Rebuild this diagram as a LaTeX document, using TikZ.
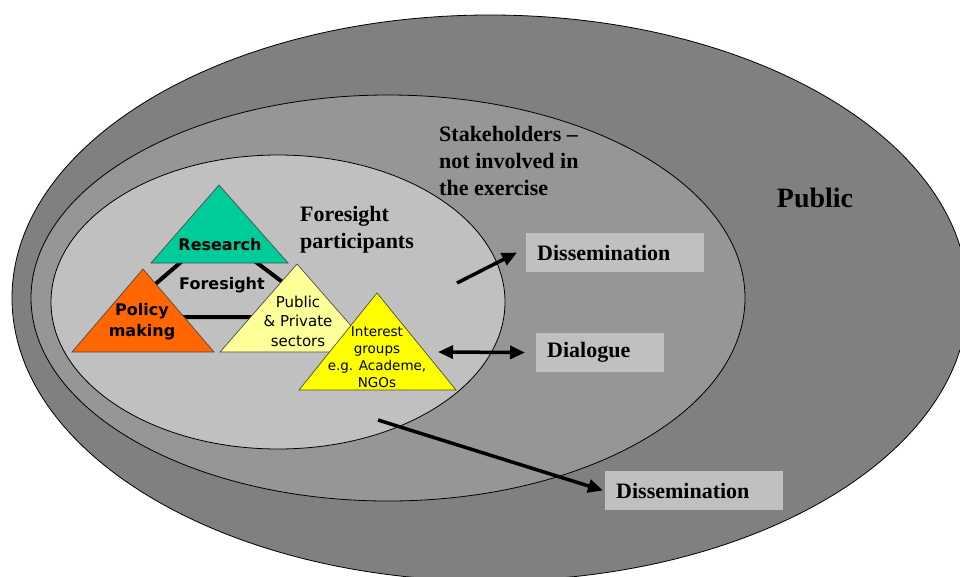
\documentclass[tikz,border=0pt]{standalone}
\usepackage{fontspec}
\setmainfont{Liberation Serif}
\setsansfont{DejaVu Sans}
\usetikzlibrary{arrows.meta}
\definecolor{pubgray}{HTML}{808080}
\definecolor{stkgray}{HTML}{969696}
\definecolor{fsgray}{HTML}{C0C0C0}
\definecolor{resgreen}{HTML}{00CC99}
\definecolor{polorange}{HTML}{FF6600}
\definecolor{pubyellow}{HTML}{FFFF99}
\definecolor{intyellow}{HTML}{FFFF00}
\begin{document}
\begin{tikzpicture}[x=1pt,y=-1pt,
  ring/.style={draw=black, line width=0.8pt},
  tri/.style={draw=black!70, line width=0.7pt},
  lbl/.style={font=\sffamily\bfseries\fontsize{16}{21}\selectfont, align=center, inner sep=0pt},
  slbl/.style={font=\sffamily\fontsize{15}{19.5}\selectfont, align=center, inner sep=0pt},
  serif/.style={font=\bfseries\fontsize{22}{27}\selectfont, align=left, inner sep=0pt},
  msgbox/.style={fill=fsgray, font=\bfseries\fontsize{22}{27}\selectfont, align=left,
    minimum height=39pt, inner xsep=11pt, inner ysep=0pt, anchor=west},
  flow/.style={line width=3.5pt, -{Triangle[length=15pt,width=13pt]}},
  flowboth/.style={line width=3.5pt, {Triangle[length=15pt,width=13pt]}-{Triangle[length=15pt,width=13pt]}}]
\useasboundingbox (0,0) rectangle (960,576);
\begin{scope}
\clip (0,0) rectangle (960,576);
\draw[ring, fill=pubgray] (490,298) ellipse [x radius=478pt, y radius=283pt];
\end{scope}
\draw[ring, fill=stkgray] (388,298) ellipse [x radius=357pt, y radius=203pt];
\draw[ring, fill=fsgray] (278,302) ellipse [x radius=227pt, y radius=147pt];
\coordinate (fr) at (216,232);
\coordinate (fp) at (117,317);
\coordinate (fs) at (329,317);
\draw[line width=4pt] (fr) -- (fp) -- (fs) -- cycle;
\draw[tri, fill=resgreen] (219,185) -- (288,263) -- (151,263) -- cycle;
\draw[tri, fill=polorange] (143,269) -- (214,352) -- (72,352) -- cycle;
\draw[tri, fill=pubyellow] (297,264) -- (374,352) -- (220,352) -- cycle;
\draw[tri, fill=intyellow] (377,293) -- (456,390) -- (299,390) -- cycle;
\node[lbl] (research) at (220,245) {Research};
\node[lbl] (foresight) at (222,285) {Foresight};
\node[lbl] (policy) at (142,322) {Policy\\making};
\node[slbl] (sectors) at (298,321) {Public\\\& Private\\sectors};
\node[slbl, font=\sffamily\fontsize{13.5}{17}\selectfont] (interest) at (377,357) {Interest\\groups\\e.g. Academe,\\NGOs};
\node[serif, anchor=north west] (stake) at (439,126) {Stakeholders --\\not involved in\\the exercise};
\node[serif, anchor=north west] (fpart) at (300,206) {Foresight\\participants};
\node[serif, font=\bfseries\fontsize{28}{32}\selectfont] (public) at (815,198) {Public};
\node[msgbox, text width=156pt] (dis1) at (526,252.5) {Dissemination};
\node[msgbox, text width=106pt] (dia) at (536,352.5) {Dialogue};
\node[msgbox, text width=156pt] (dis2) at (605,490.5) {Dissemination};
\coordinate (d1) at (457,283);
\coordinate (d2) at (438,352);
\coordinate (d3) at (378,420);
\draw[flow] (d1) -- ([xshift=-9pt]dis1.west);
\draw[flowboth] (d2) -- ([xshift=-11pt]dia.west);
\draw[flow] (d3) -- ([xshift=-2pt]dis2.west);
\end{tikzpicture}
\end{document}
